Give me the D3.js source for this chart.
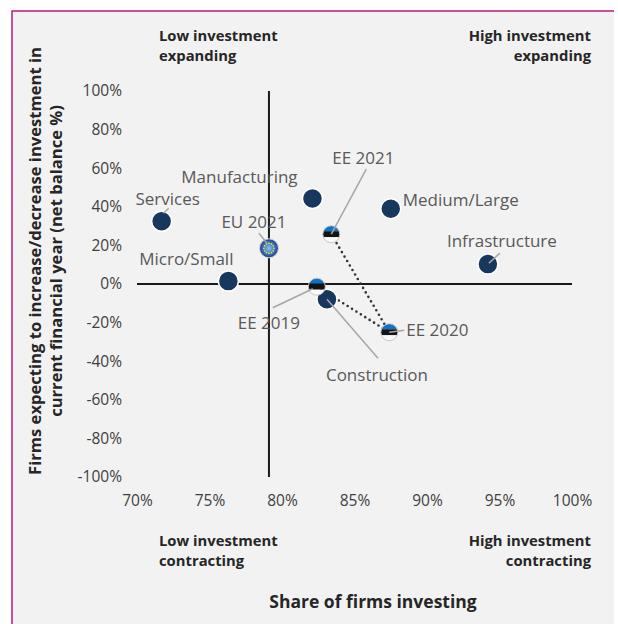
<!DOCTYPE html>
<html>
<head>
<meta charset="utf-8">
<script src="https://cdn.jsdelivr.net/npm/d3@7"></script>
<style>
  html, body { margin: 0; padding: 0; background: #fff; }
  svg { display: block; font-family: "Open Sans", "Noto Sans", sans-serif; }
</style>
</head>
<body>
<svg id="chart" width="618" height="624"></svg>
<script>
// data
var names  = ["Services", "Micro/Small", "EU 2021", "Manufacturing", "EE 2021",
              "Medium/Large", "Infrastructure", "EE 2019", "Construction", "EE 2020"];
var share  = [71.7, 76.3, 79.1, 82.1, 83.4, 87.5, 94.2, 82.4, 83.1, 87.4];   // x, %
var net    = [32.5, 1.5, 18.5, 44.3, 25.8, 39.0, 10.3, -1.4, -7.9, -25.0];  // y, %
var kind   = ["sector", "sector", "eu", "sector", "ee", "sector", "sector", "ee", "sector", "ee"];
var xTicks = [70, 75, 80, 85, 90, 95, 100];
var yTicks = [100, 80, 60, 40, 20, 0, -20, -40, -60, -80, -100];
var eePath = [["EE 2021", "EE 2020"], ["EE 2019", "EE 2020"]];

document.addEventListener('DOMContentLoaded', function() {
  drawChart();
});

function drawChart() {
  var svg = d3.select('#chart');

  // frame
  svg.append("rect").attr("x", 12).attr("y", 11).attr("width", 602).attr("height", 620)
      .attr("fill", "#f2f2f2");
  svg.append("path").attr("d", "M12,624 V11 H614")
      .attr("fill", "none").attr("stroke", "#c0177a").attr("stroke-width", 1.5);

  var x = d3.scaleLinear().domain([70, 100]).range([137, 572]);
  var y = d3.scaleLinear().domain([-100, 100]).range([477, 91]);

  var data = names.map(function(n, i) {
    return { name: n, sx: share[i], ny: net[i], kind: kind[i] };
  });
  var byName = {};
  data.forEach(function(d) { byName[d.name] = d; });
  var eu = byName["EU 2021"];

  // axes (tick labels only, the lines are the crosshair)
  var xAxis = svg.append("g").attr("transform", "translate(0,492)")
      .call(d3.axisBottom(x).tickValues(xTicks).tickSize(0).tickFormat(function(d) { return d + "%"; }));
  var yAxis = svg.append("g").attr("transform", "translate(122,0)")
      .call(d3.axisLeft(y).tickValues(yTicks).tickSize(0).tickFormat(function(d) { return d + "%"; }));
  [xAxis, yAxis].forEach(function(a) {
    a.select(".domain").remove();
    a.selectAll("text").attr("fill", "#404040").style("font-size", "15.5px")
        .style("font-family", "'Open Sans', sans-serif");
  });
  yAxis.selectAll("text").attr("x", 0);

  // crosshair
  svg.append("line").attr("x1", x(70)).attr("x2", x(100)).attr("y1", y(0)).attr("y2", y(0))
      .attr("stroke", "#1a1a1a").attr("stroke-width", 2);
  svg.append("line").attr("x1", x(eu.sx)).attr("x2", x(eu.sx)).attr("y1", y(100)).attr("y2", y(-100))
      .attr("stroke", "#1a1a1a").attr("stroke-width", 2);

  // dotted path between EE years
  eePath.forEach(function(p) {
    var a = byName[p[0]], b = byName[p[1]];
    svg.append("line")
        .attr("x1", x(a.sx)).attr("y1", y(a.ny)).attr("x2", x(b.sx)).attr("y2", y(b.ny))
        .attr("stroke", "#333").attr("stroke-width", 2.6)
        .attr("stroke-linecap", "round").attr("stroke-dasharray", "0,5.2");
  });

  // defs: EE flag clip + EU gradient
  var defs = svg.append("defs");
  var grad = defs.append("radialGradient").attr("id", "euGrad");
  grad.append("stop").attr("offset", "0%").attr("stop-color", "#8fc0e8");
  grad.append("stop").attr("offset", "55%").attr("stop-color", "#3f7cc4");
  grad.append("stop").attr("offset", "100%").attr("stop-color", "#1d3f8c");
  defs.append("clipPath").attr("id", "flagClip")
      .append("circle").attr("r", 8.5);

  // sector markers
  svg.selectAll("circle.sector")
      .data(data.filter(function(d) { return d.kind === "sector"; }))
      .enter().append("circle")
      .attr("class", "sector")
      .attr("cx", function(d) { return x(d.sx); })
      .attr("cy", function(d) { return y(d.ny); })
      .attr("r", 10)
      .attr("fill", "#17375e")
      .attr("stroke", "#fff").attr("stroke-width", 1.5);

  // EE flags
  var ee = svg.selectAll("g.ee")
      .data(data.filter(function(d) { return d.kind === "ee"; }))
      .enter().append("g")
      .attr("class", "ee")
      .attr("transform", function(d) { return "translate(" + x(d.sx) + "," + y(d.ny) + ")"; });
  var flag = ee.append("g").attr("clip-path", "url(#flagClip)");
  flag.append("rect").attr("x", -9).attr("y", -9).attr("width", 18).attr("height", 6).attr("fill", "#0f72c4");
  flag.append("rect").attr("x", -9).attr("y", -3).attr("width", 18).attr("height", 6).attr("fill", "#141414");
  flag.append("rect").attr("x", -9).attr("y", 3).attr("width", 18).attr("height", 6).attr("fill", "#fafafa");
  ee.append("circle").attr("r", 8.5).attr("fill", "none").attr("stroke", "#c8c8c8").attr("stroke-width", 1);

  // EU flag
  var euG = svg.append("g").attr("transform", "translate(" + x(eu.sx) + "," + y(eu.ny) + ")");
  euG.append("circle").attr("r", 9.5).attr("fill", "url(#euGrad)")
      .attr("stroke", "#d8d8d8").attr("stroke-width", 1);
  euG.selectAll("circle.star").data(d3.range(12)).enter().append("circle")
      .attr("class", "star")
      .attr("cx", function(i) { return 5 * Math.cos(i * Math.PI / 6); })
      .attr("cy", function(i) { return 5 * Math.sin(i * Math.PI / 6); })
      .attr("r", 0.9).attr("fill", "#e8d84a");

  // labels: text position offsets and leader line ends (relative to marker)
  var labelPos = {
    "Services":       { dx: 6,   dy: -16, anchor: "middle", lead: [[2, -8], [7, -13]] },
    "Micro/Small":    { dx: -42, dy: -16, anchor: "middle", lead: null },
    "EU 2021":        { dx: -15, dy: -20, anchor: "middle", lead: [[-2, -5], [-10, -15]] },
    "Manufacturing":  { dx: -73, dy: -16, anchor: "middle", lead: null },
    "EE 2021":        { dx: 32,  dy: -70, anchor: "middle", lead: [[0, 0], [35, -65]] },
    "Medium/Large":   { dx: 12,  dy: -3,  anchor: "start",  lead: null },
    "Infrastructure": { dx: 14,  dy: -17, anchor: "middle", lead: [[1, -1], [12, -11]] },
    "EE 2019":        { dx: -48, dy: 42,  anchor: "middle", lead: [[-4, 2], [-44, 21]] },
    "Construction":   { dx: 50,  dy: 82,  anchor: "middle", lead: [[0, 0], [51, 59]] },
    "EE 2020":        { dx: 17,  dy: 4,   anchor: "start",  lead: [[0, 0], [15, -2]] }
  };

  data.forEach(function(d) {
    var p = labelPos[d.name];
    var cx = x(d.sx), cy = y(d.ny);
    if (p.lead) {
      svg.append("line")
          .attr("x1", cx + p.lead[0][0]).attr("y1", cy + p.lead[0][1])
          .attr("x2", cx + p.lead[1][0]).attr("y2", cy + p.lead[1][1])
          .attr("stroke", "#a6a6a6").attr("stroke-width", 1.5);
    }
    svg.append("text")
        .attr("x", cx + p.dx).attr("y", cy + p.dy)
        .attr("text-anchor", p.anchor)
        .attr("fill", "#595959")
        .style("font-size", "17px")
        .text(d.name);
  });

  // quadrant notes
  var notes = [
    { t: ["Low investment", "expanding"], x: 159, y: 41, a: "start" },
    { t: ["High investment", "expanding"], x: 591, y: 41, a: "end" },
    { t: ["Low investment", "contracting"], x: 159, y: 546, a: "start" },
    { t: ["High investment", "contracting"], x: 591, y: 546, a: "end" }
  ];
  notes.forEach(function(n) {
    var t = svg.append("text").attr("x", n.x).attr("y", n.y).attr("text-anchor", n.a)
        .attr("fill", "#262626").style("font-size", "14.8px").style("font-weight", "bold");
    n.t.forEach(function(s, i) {
      t.append("tspan").attr("x", n.x).attr("dy", i ? 19.5 : 0).text(s);
    });
  });

  // axis titles
  svg.append("text").attr("x", 373).attr("y", 608).attr("text-anchor", "middle")
      .attr("fill", "#262626").style("font-size", "17.5px").style("font-weight", "bold")
      .text("Share of firms investing");
  var yt = svg.append("text").attr("transform", "translate(41,261) rotate(-90)")
      .attr("text-anchor", "middle")
      .attr("fill", "#262626").style("font-size", "16.6px").style("font-weight", "bold");
  yt.append("tspan").attr("x", 0).attr("dy", 0).text("Firms expecting to increase/decrease investment in");
  yt.append("tspan").attr("x", 0).attr("dy", 21).text("current financial year  (net balance %)");
}
</script>
</body>
</html>
